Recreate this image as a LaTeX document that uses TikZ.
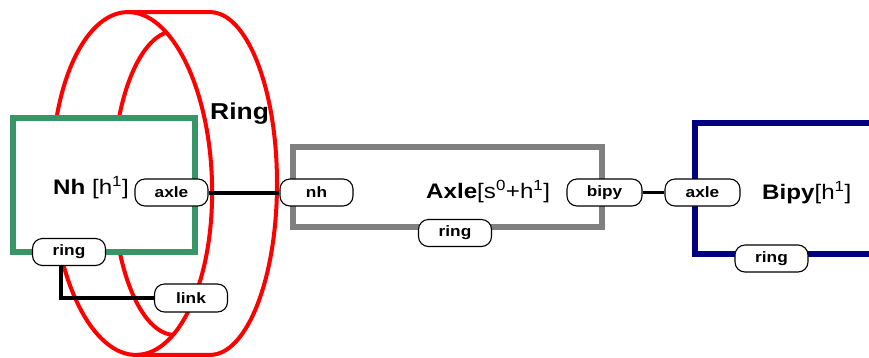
\documentclass[tikz,border=0pt]{standalone}
\usepackage{fontspec}
\usepackage{tikz}
\usepackage{xcolor}
\newfontfamily\diagfont[FakeStretch=1.15]{Liberation Sans}
\definecolor{ringred}{RGB}{255, 0, 0}
\definecolor{nhgreen}{RGB}{56, 150, 102}
\definecolor{axlegray}{RGB}{128, 128, 128}
\definecolor{bipyblue}{RGB}{0, 0, 128}
\tikzset{
    compframe/.style={rectangle, draw, line width=6pt, fill=white, inner sep=0pt, outer sep=0pt},
    nhframe/.style={compframe, draw=nhgreen},
    axleframe/.style={compframe, draw=axlegray},
    bipyframe/.style={compframe, draw=bipyblue},
    portbox/.style={rectangle, draw=black, rounded corners=10pt, fill=white, line width=1.1pt,
        minimum width=73pt, minimum height=27pt, inner sep=0pt,
        font=\diagfont\fontsize{15}{17}\selectfont\bfseries},
    complabel/.style={anchor=base west, inner sep=0pt, font=\diagfont\fontsize{21}{24}\selectfont},
    wire/.style={draw=black, line width=4pt},
    ringline/.style={draw=ringred, line width=4pt}
}

\begin{document}
\begin{tikzpicture}[x=1pt, y=-1pt]
    \useasboundingbox (0,0) rectangle (869,357);
    \clip (0,0) rectangle (869,357);

    % the ring
    \draw[ringline, rotate around={1.7:(132,183.5)}] (132,183.5) ellipse [x radius=80, y radius=171.5];
    \draw[ringline] (126.9,12.1) -- (210,12.1)
        arc [start angle=-90, end angle=90, x radius=67, y radius=171.4] -- (137.1,354.9);
    \begin{scope}
        \clip[rotate around={1.7:(132,183.5)}] (132,183.5) ellipse [x radius=80, y radius=171.5];
        \clip (0,0) rectangle (175,357);
        \draw[ringline] (175,183) ellipse [x radius=62, y radius=152];
    \end{scope}
    \node[complabel, font=\diagfont\fontsize{23}{26}\selectfont\bfseries] (ringlabel) at (210,119) {Ring};

    % components
    \node[nhframe, minimum width=182pt, minimum height=134pt] (nhbox) at (104,185) {};
    \node[axleframe, minimum width=309pt, minimum height=80pt] (axlebox) at (447.5,187) {};
    \node[bipyframe, minimum width=250pt, minimum height=131pt] (bipybox) at (820,188.5) {};

    \node[complabel] (nhlabel) at (53,194) {\textbf{Nh} [h\textsuperscript{1}]};
    \node[complabel] (axlelabel) at (426,198) {\textbf{Axle}[s\textsuperscript{0}+h\textsuperscript{1}]};
    \node[complabel] (bipylabel) at (762,199) {\textbf{Bipy}[h\textsuperscript{1}]};

    % ports
    \node[portbox] (nhaxle) at (171.5,192.5) {axle};
    \node[portbox] (nhring) at (69,252) {ring};
    \node[portbox, minimum height=28pt] (link) at (191,298) {link};
    \node[portbox] (nh) at (316.5,192.5) {nh};
    \node[portbox, minimum width=75pt] (axlebipy) at (604.5,192.5) {bipy};
    \node[portbox] (axlering) at (455,233) {ring};
    \node[portbox, minimum width=75pt] (bipyaxle) at (702.5,192.5) {axle};
    \node[portbox] (bipyring) at (771.5,258.5) {ring};

    % bindings
    \draw[wire] (nhaxle.east) -- (nh.west);
    \draw[wire, line width=3.5pt] (axlebipy.east) -- (bipyaxle.west);
    \draw[wire, line width=3.5pt] ([xshift=-8pt]nhring.south) |- (link.west);
\end{tikzpicture}
\end{document}
